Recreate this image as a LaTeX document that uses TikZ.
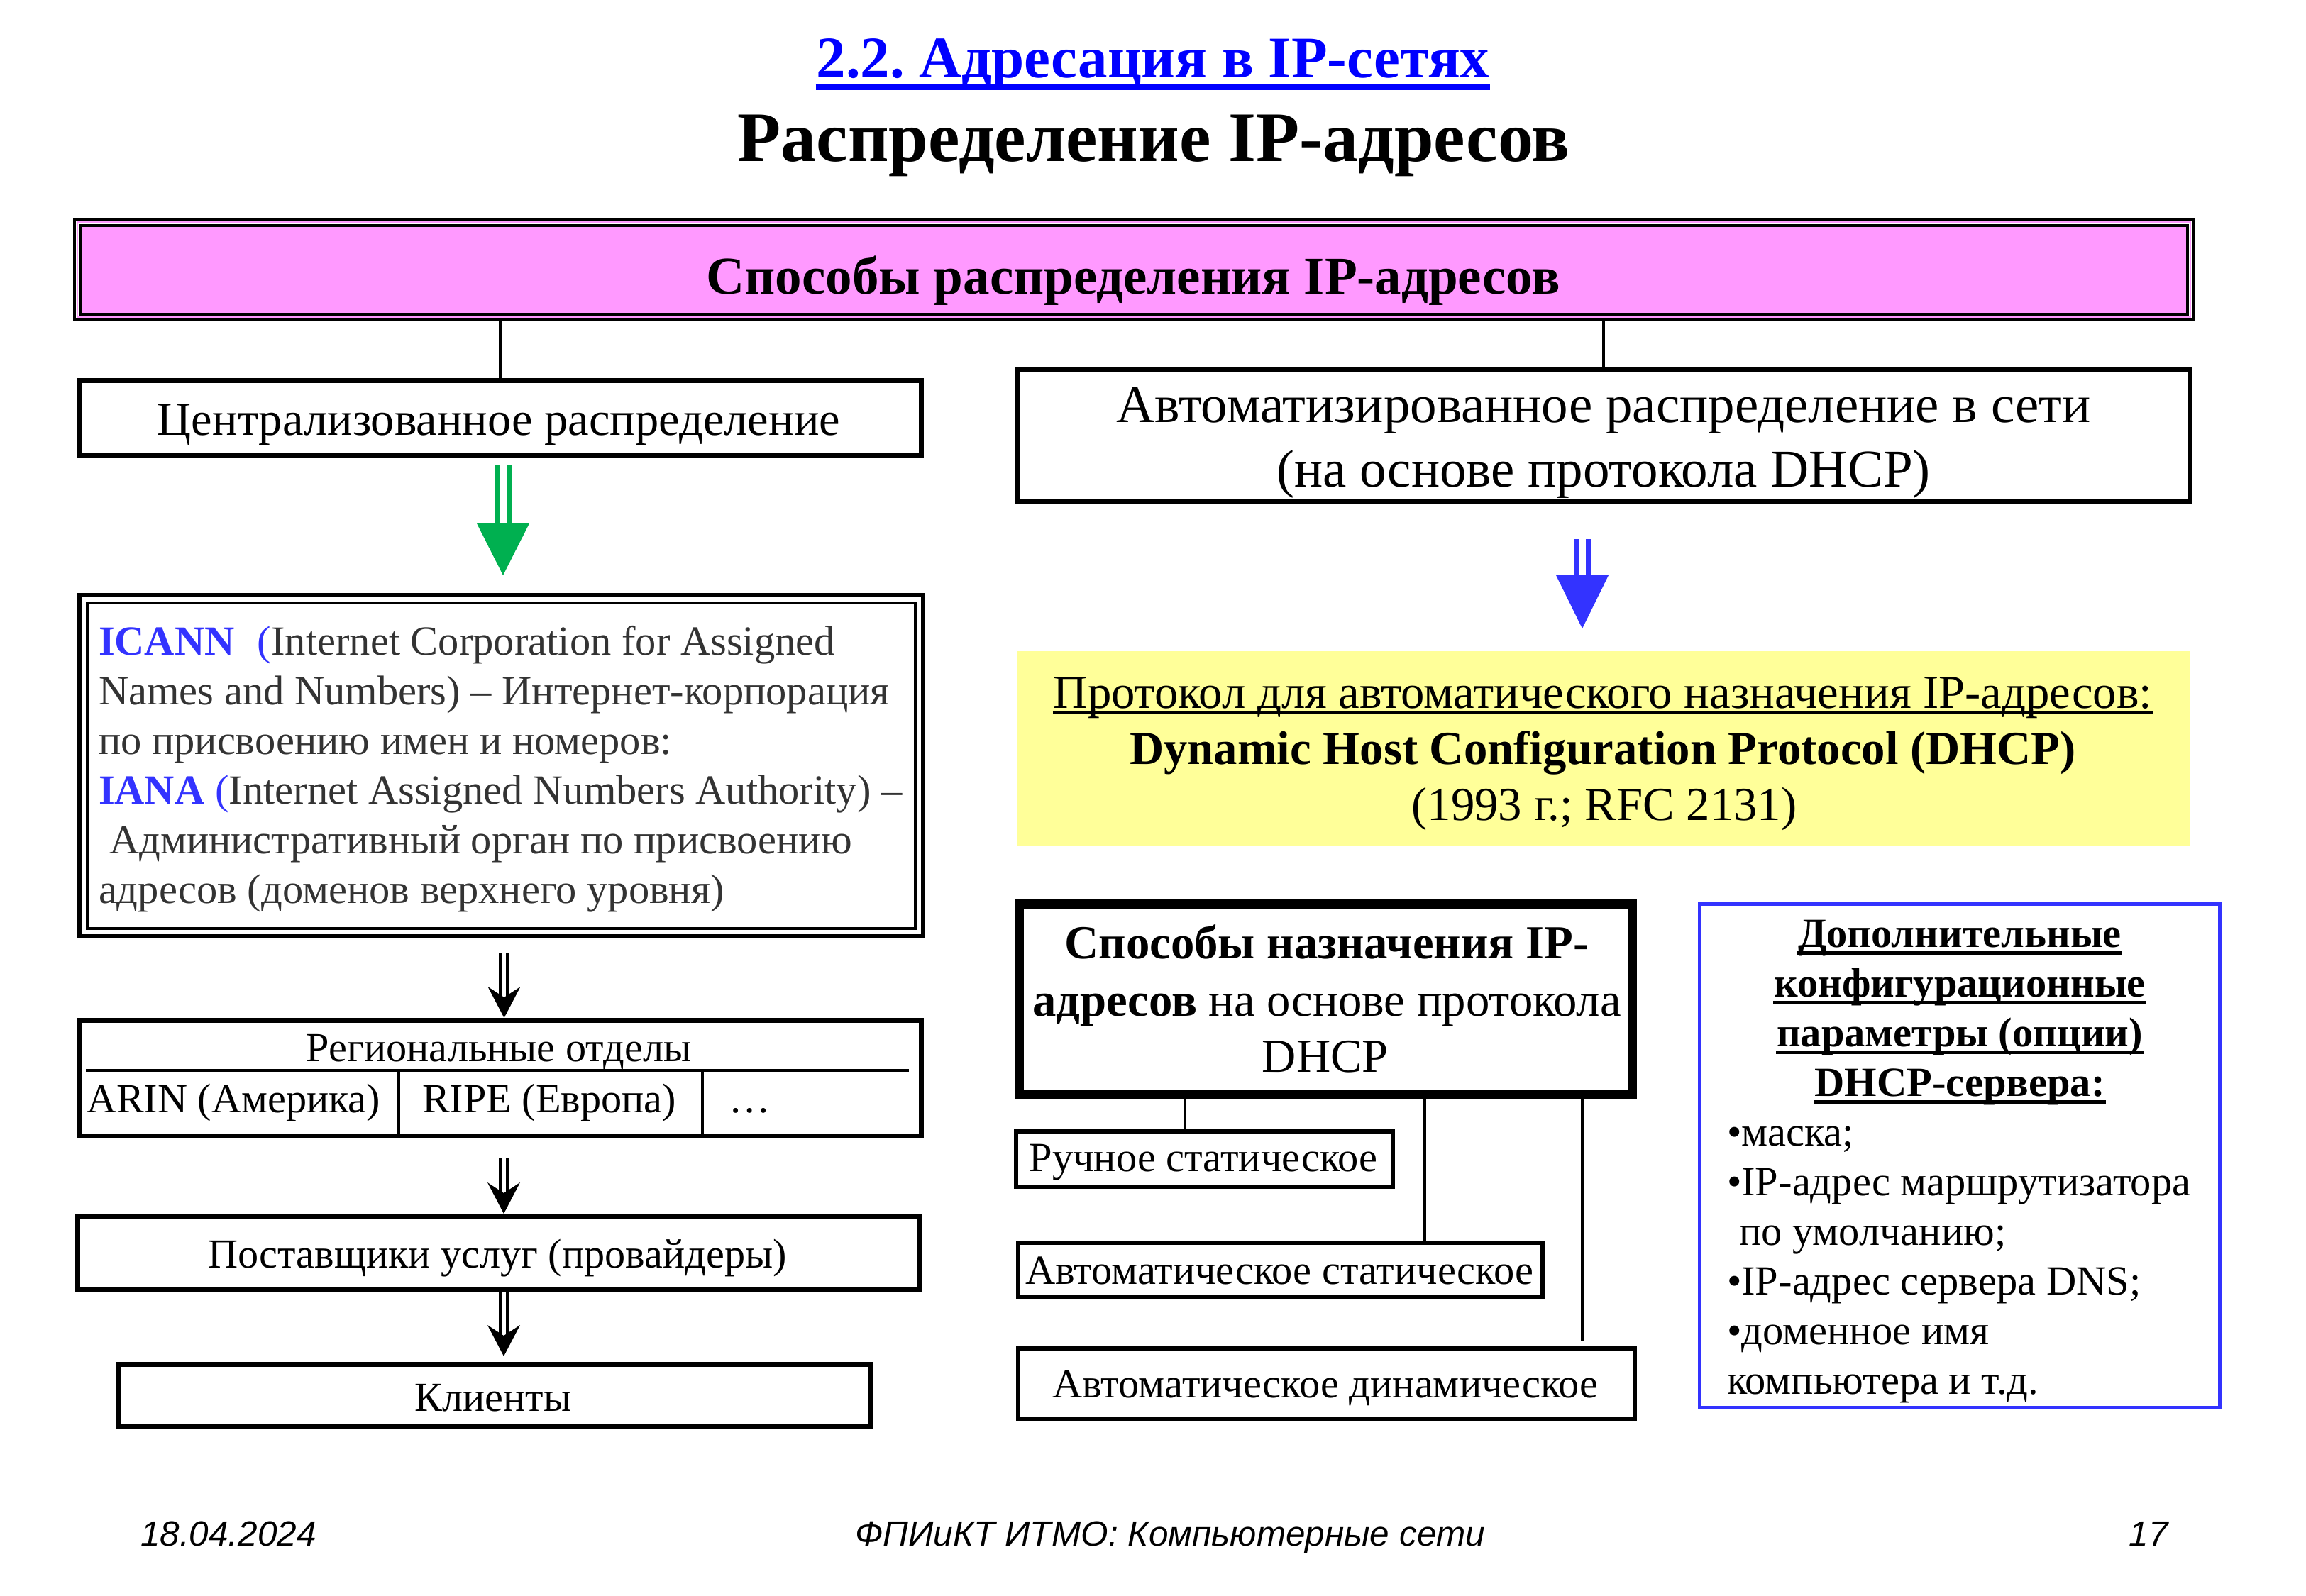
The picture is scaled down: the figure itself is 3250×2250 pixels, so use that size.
\documentclass[tikz,border=0pt]{standalone}
\usepackage{fontspec}
\setmainfont{Liberation Serif}
\newfontfamily\footfont{Liberation Sans}
\usetikzlibrary{calc,fit}

\definecolor{headblue}{HTML}{0000FF}
\definecolor{accblue}{HTML}{3333FF}
\definecolor{boxpink}{HTML}{FF99FF}
\definecolor{boxyellow}{HTML}{FFFF99}
\definecolor{arrgreen}{HTML}{00B050}
\definecolor{bodygray}{HTML}{333333}

\newcommand{\sz}[1]{\fontsize{#1pt}{#1pt}\selectfont}

% double-shaft arrow with a plain triangular head
\newcommand{\widearrow}[5]{% colour, start, tip, head length, head half width
  \draw[#1, line width=1.6pt, double=white, double distance=1.8pt] (#2) -- ($(#3)+(0,-#4)$);
  \fill[#1] ($(#3)+(-#5,-#4)$) -- ($(#3)+(#5,-#4)$) -- (#3) -- cycle;
}
% thin double-shaft arrow with a barbed head
\newcommand{\narrowarrow}[2]{% start, tip
  \draw[line width=1pt, double=white, double distance=1pt] (#1) -- ($(#2)+(0,-31)$);
  \fill ($(#2)+(-23,-44)$) -- ($(#2)+(0,-29)$) -- ($(#2)+(23,-44)$) -- (#2) -- cycle;
}

\begin{document}
\frenchspacing
\begin{tikzpicture}[x=0.2pt, y=-0.2pt,
  boxframe/.style={draw, line width=1.4pt, inner sep=0pt},
  subframe/.style={draw, line width=1.2pt, inner sep=0pt},
  lbl/.style={inner sep=0pt, anchor=base},
  lblw/.style={inner sep=0pt, anchor=base west},
  lble/.style={inner sep=0pt, anchor=base east},
  wire/.style={line width=0.7pt},
  icanntxt/.style={lblw, font=\sz{11.7}, text=bodygray},
  leftsmall/.style={font=\sz{11.65}},
  subtxt/.style={lbl, font=\sz{11.7}},
  opttxt/.style={lblw, font=\sz{11.7}},
  opthead/.style={lbl, font=\sz{11.7}\bfseries},
  foot/.style={font=\footfont\itshape\sz{9.9}},
]
\useasboundingbox (0,0) rectangle (3250,2250);

% ---------- headings ----------
\node[lbl, font=\sz{16.6}\bfseries, text=headblue] (sect) at (1625,110) {2.2. Адресация в IP-сетях};
\draw[headblue, line width=1.6pt] ($(sect.base west)+(0,13)$) -- ($(sect.base east)+(0,13)$);
\node[lbl, font=\sz{20}\bfseries] (slide) at (1626,228) {Распределение IP-адресов};

% ---------- top banner ----------
\node[draw, line width=0.8pt, fill=white, inner sep=0pt, fit={(104.5,309.5)(3090.5,451.5)}] (pinkouter) {};
\draw[boxpink, line width=0.4pt] (108.5,313.5) rectangle (3086.5,447.5);
\node[draw, line width=0.8pt, fill=boxpink, inner sep=0pt, fit={(113,318)(3083,443)}] (pink) {};
\node[lbl, font=\sz{15}\bfseries] (pinktext) at (1597,415) {Способы распределения IP-адресов};

% ---------- left branch ----------
\node[boxframe, fit={(111.5,536.5)(1298.5,641.5)}] (central) {};
\node[lbl, font=\sz{13.3}] (centraltext) at (703,613) {Централизованное распределение};
\draw[wire] (central.north) -- (central.north |- pinkouter.south);

\node[draw, line width=1.2pt, inner sep=0pt, fit={(112,839)(1301,1320)}] (icann) {};
\node[draw, line width=0.8pt, inner sep=0pt, fit={(123,850)(1290,1309)}] (icanninner) {};
\node[icanntxt] (ic1) at (138,923) {{\bfseries\color{accblue}ICANN}\hspace*{0.55em}{\color{accblue}(}Internet Corporation for Assigned};
\node[icanntxt] (ic2) at (138,993) {Names and Numbers) – Интернет-корпорация};
\node[icanntxt] (ic3) at (138,1063) {по присвоению имен и номеров:};
\node[icanntxt] (ic4) at (138,1133) {{\bfseries\color{accblue}IANA} {\color{accblue}(}Internet Assigned Numbers Authority) –};
\node[icanntxt] (ic5) at (153,1203) {Административный орган по присвоению};
\node[icanntxt] (ic6) at (138,1273) {адресов (доменов верхнего уровня)};

\coordinate (ga) at ($(central.south)+(4,11)$);
\coordinate (gb) at ($(ga |- icann.north)+(0,-25)$);
\widearrow{arrgreen}{ga}{gb}{74}{37.5}

\node[boxframe, fit={(111.5,1438.5)(1298.5,1601.5)}] (region) {};
\coordinate (rl) at (121,1509);
\coordinate (rr) at (1281,1509);
\draw[line width=0.9pt] (rl) -- (rr);
\coordinate (d1) at (562,1509);
\coordinate (d2) at (990,1509);
\draw[line width=0.9pt] (d1) -- (d1 |- region.south);
\draw[line width=0.9pt] (d2) -- (d2 |- region.south);
\node[lbl, leftsmall] (regtitle) at (703,1496) {Региональные отделы};
\node[lblw, leftsmall] (arin) at (121,1568) {ARIN (Америка)};
\node[lblw, leftsmall] (ripe) at (594,1568) {RIPE (Европа)};
\node[lblw, leftsmall] (more) at (1026,1568) {…};

\node[boxframe, fit={(109.5,1714.5)(1296.5,1817.5)}] (providers) {};
\node[lbl, leftsmall] (provtext) at (701,1787) {Поставщики услуг (провайдеры)};

\node[boxframe, fit={(166.5,1923.5)(1226.5,2010.5)}] (clients) {};
\node[lbl, leftsmall] (clienttext) at (695,1989) {Клиенты};

\coordinate (a1s) at ($(icann.south)+(4,21)$);
\coordinate (a1t) at (a1s |- region.north);
\narrowarrow{a1s}{a1t}
\coordinate (a2s) at ($(region.south)+(5,27)$);
\coordinate (a2t) at (a2s |- providers.north);
\narrowarrow{a2s}{a2t}
\coordinate (a3s) at ($(providers.south)+(7,0)$);
\coordinate (a3t) at ($(a3s |- clients.north)+(0,-8)$);
\narrowarrow{a3s}{a3t}

% ---------- right branch ----------
\node[boxframe, fit={(1433.5,520.5)(3086.5,707.5)}] (auto) {};
\node[lbl, font=\sz{15}] (auto1) at (2260,596) {Автоматизированное распределение в сети};
\node[lbl, font=\sz{15}] (auto2) at (2260,687) {(на основе протокола DHCP)};
\draw[wire] (auto.north) -- (auto.north |- pinkouter.south);

\node[fill=boxyellow, inner sep=0pt, fit={(1434,918)(3086,1192)}] (yellow) {};
\node[lbl, font=\sz{13.35}] (y1) at (2259,998) {Протокол для автоматического назначения IP-адресов:};
\draw[line width=0.6pt] ($(y1.base west)+(0,6)$) -- ($(y1.base east)+(0,6)$);
\node[lbl, font=\sz{13.35}\bfseries] (y2) at (2259,1077) {Dynamic Host Configuration Protocol (DHCP)};
\node[lbl, font=\sz{13.35}] (y3) at (2261,1156) {(1993 г.; RFC 2131)};

\coordinate (ba) at ($(auto.south)+(-30,49)$);
\coordinate (bb) at ($(ba |- yellow.north)+(0,-31)$);
\widearrow{accblue}{ba}{bb}{75}{37}

\node[draw, line width=2.6pt, inner sep=0pt, fit={(1436.5,1274.5)(2300.5,1543.5)}] (methods) {};
\node[lbl, font=\sz{13.35}\bfseries] (m1) at (1870,1351) {Способы назначения IP-};
\node[lbl, font=\sz{13.35}] (m2) at (1870,1432) {{\bfseries адресов} на основе протокола};
\node[lbl, font=\sz{13.35}] (m3) at (1868,1511) {DHCP};

\node[subframe, fit={(1432,1595)(1963,1673)}] (manual) {};
\node[subtxt] (manualtext) at (1696,1651) {Ручное статическое};
\node[subframe, fit={(1435,1752)(2174,1828)}] (autostat) {};
\node[subtxt] (autostattext) at (1803,1810) {Автоматическое статическое};
\node[subframe, fit={(1435,1901)(2304,2000)}] (autodyn) {};
\node[subtxt] (autodyntext) at (1868,1970) {Автоматическое динамическое};

\coordinate (w1) at ($(manual.north)+(-27.5,0)$);
\draw[wire] (w1) -- (w1 |- methods.south);
\coordinate (w2) at ($(autostat.north)+(203.5,0)$);
\draw[wire] (w2) -- (w2 |- methods.south);
\coordinate (w3) at ($(autodyn.north)+(360.5,-8)$);
\draw[wire] (w3) -- (w3 |- methods.south);

\node[draw=accblue, line width=1pt, inner sep=0pt, fit={(2395.5,1274.5)(3128.5,1984.5)}] (options) {};
\node[opthead] (o1) at (2762,1335) {Дополнительные};
\node[opthead] (o2) at (2762,1405) {конфигурационные};
\node[opthead] (o3) at (2762,1475) {параметры (опции)};
\node[opthead] (o4) at (2762,1545) {DHCP-сервера:};
\foreach \n in {o1,o2,o3,o4}
  \draw[line width=1pt] ($(\n.base west)+(0,8)$) -- ($(\n.base east)+(0,8)$);
\node[opttxt] (b1) at (2433,1615) {•маска;};
\node[opttxt] (b2) at (2433,1685) {•IP-адрес маршрутизатора};
\node[opttxt] (b3) at (2450,1755) {по умолчанию;};
\node[opttxt] (b4) at (2433,1825) {•IP-адрес сервера DNS;};
\node[opttxt] (b5) at (2433,1895) {•доменное имя};
\node[opttxt] (b6) at (2433,1965) {компьютера и т.д.};

% ---------- footer ----------
\node[lblw, foot] (date) at (197,2179) {18.04.2024};
\node[lbl, foot] (course) at (1649,2179) {ФПИиКТ ИТМО: Компьютерные сети};
\node[lble, foot] (page) at (3057,2179) {17};
\end{tikzpicture}
\end{document}
